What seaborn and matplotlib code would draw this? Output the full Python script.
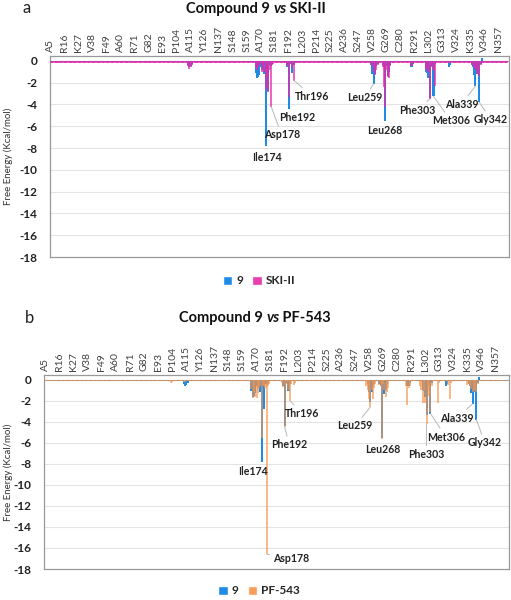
import numpy as np
import pandas as pd
import matplotlib
matplotlib.use("Agg")
import matplotlib.pyplot as plt
from matplotlib.patches import Patch
import seaborn as sns

sns.set_theme(style="white")
plt.rcParams['font.family'] = ['Lato', 'DejaVu Sans']

# ---------------- data ----------------
residues = list(range(5, 365))
tick_residues = [5, 16, 27, 38, 49, 60, 71, 82, 93, 104, 115, 126, 137, 148, 159, 170,
                 181, 192, 203, 214, 225, 236, 247, 258, 269, 280, 291, 302, 313, 324,
                 335, 346, 357]
tick_labels = ["A5", "R16", "K27", "V38", "F49", "A60", "R71", "G82", "E93", "P104",
               "A115", "Y126", "N137", "S148", "S159", "A170", "S181", "F192", "L203",
               "P214", "S225", "A236", "S247", "V258", "G269", "C280", "R291", "L302",
               "G313", "V324", "K335", "V346", "N357"]

# near-zero background level (estimated) and read-off residue contributions
base_9 = -0.12
base_ski = -0.2
base_pf = -0.14

cmpd9 = {113: -0.4, 114: -0.6, 115: -0.5, 116: -0.3,
         166: -1.1, 167: -1.6, 168: -1.5, 169: -1.3, 170: -0.6, 171: -0.8, 172: -0.5,
         173: -1.2, 174: -7.8, 175: -0.6, 176: -2.8, 177: -0.4, 178: -0.5, 179: -0.3,
         191: -0.6, 192: -4.4, 193: -0.3, 195: -1.1, 196: -0.4,
         257: -0.4, 258: -1.2, 259: -2.1, 260: -1.2, 261: -0.5, 262: -0.3,
         266: -0.4, 267: -0.6, 268: -5.5, 269: -0.5, 270: -1.4, 271: -1.0, 272: -0.4,
         288: -0.6, 289: -0.6, 290: -0.3,
         300: -1.0, 301: -1.1, 302: -1.6, 303: -3.4, 304: -0.5, 305: -0.4, 306: -3.25,
         307: -0.3, 318: -0.6, 319: -0.4,
         336: -0.4, 337: -0.6, 338: -1.3, 339: -2.3, 340: -1.2, 341: -1.0, 342: -3.8,
         343: -0.3, 344: 0.25}

ski2 = {113: -0.5, 114: -0.7, 115: -0.6, 116: -0.4,
        166: -0.6, 167: -0.8, 168: -0.6, 169: -0.4, 171: -1.0, 172: -0.4, 173: -1.0,
        174: -2.6, 175: -1.5, 176: -2.9, 177: -0.8, 178: -4.2, 179: -0.4, 180: -0.3,
        191: -0.5, 192: -3.3, 193: -0.3, 195: -0.6, 196: -1.8,
        258: -0.5, 259: -1.0, 260: -1.3, 261: -0.8, 262: -0.4,
        266: -0.6, 267: -2.4, 268: -4.2, 269: -0.8, 270: -1.5, 271: -1.6, 272: -0.5,
        288: -0.5, 289: -0.5,
        300: -0.8, 301: -0.6, 302: -1.0, 303: -3.5, 304: -0.6, 306: -0.8, 307: -2.3,
        336: -0.4, 337: -0.3, 338: -0.6, 339: -0.7, 340: -1.2, 341: -0.8, 342: -1.4,
        343: -0.4}

pf543 = {103: -0.3, 104: -0.2, 113: -0.2, 114: -0.2,
         166: -0.9, 167: -1.7, 168: -1.2, 169: -1.6, 170: -1.7, 171: -1.3, 172: -0.8,
         173: -0.6, 174: -5.5, 175: -0.5, 176: -0.6, 177: -0.8, 178: -16.6, 179: -0.6,
         180: -0.4,
         190: -0.3, 191: -0.7, 192: -4.5, 193: -0.4, 195: -1.0, 196: -2.0, 197: -0.4,
         199: -0.5, 200: -0.3,
         256: -0.6, 257: -1.0, 258: -1.8, 259: -2.6, 260: -1.0, 261: -1.8, 262: -0.8,
         263: -0.4, 266: -0.5, 267: -0.6, 268: -5.6, 269: -0.4, 270: -1.0, 271: -1.6,
         272: -1.2, 273: -0.8,
         287: -0.6, 288: -2.4, 289: -0.8, 290: -0.6,
         298: -0.6, 299: -1.0, 300: -2.2, 301: -1.0, 302: -2.2, 303: -4.2, 304: -1.0,
         305: -1.5, 306: -3.1, 307: -0.6, 312: -2.2, 313: -0.3,
         320: -0.5, 321: -1.8, 322: -0.3,
         335: -0.5, 336: -0.4, 337: -0.6, 338: -0.9, 339: -1.2, 340: -1.0, 341: -1.1,
         342: -1.2, 343: -0.4}

def series(d, base):
    return [d.get(r, base) for r in residues]

df = pd.DataFrame({"residue": residues,
                   "9": series(cmpd9, base_9),
                   "SKI-II": series(ski2, base_ski),
                   "PF-543": series(pf543, base_pf)})

BLUE = "#1E8CE6"
PINK = "#E62AA8"
ORANGE = "#F7944A"

fig = plt.figure(figsize=(5.11, 6.00), dpi=100)
W, H = 511, 600

def ax_rect(left, top, right, bottom):
    return [left / W, 1 - bottom / H, (right - left) / W, (bottom - top) / H]

ax_a = fig.add_axes(ax_rect(50, 56, 509, 257))
ax_b = fig.add_axes(ax_rect(44, 375, 509, 569))

def setup(ax, other, other_color, alpha, xlim, ylab_x):
    for yv in range(-16, 0, 2):
        ax.axhline(yv, color="#e3e3e3", lw=0.8, zorder=0)
    ax.axhline(0, color="#a0a0a0", lw=0.8, zorder=0.5)
    sns.barplot(data=df, x="residue", y="9", native_scale=True, color=BLUE,
                saturation=1, width=1.6, linewidth=0, errorbar=None, ax=ax, zorder=2)
    sns.barplot(data=df, x="residue", y=other, native_scale=True, color=other_color,
                saturation=1, width=1.6, linewidth=0, errorbar=None, ax=ax,
                alpha=alpha, zorder=3)
    ax.set_xlim(*xlim)
    ax.set_ylim(-18, 0.45)
    ax.set_yticks(range(-18, 1, 2))
    ax.set_yticklabels([str(v) for v in range(-18, 1, 2)], fontsize=8.5,
                       fontweight="bold", color="#222222")
    ax.xaxis.tick_top()
    ax.set_xticks(tick_residues)
    ax.set_xticklabels(tick_labels, rotation=90, fontsize=7.5, color="#404040")
    ax.tick_params(axis="both", length=0, pad=3)
    ax.tick_params(axis="y", pad=9)
    ax.set_xlabel("")
    ax.set_ylabel("Free Energy (Kcal/mol)", fontsize=7, color="#333333")
    ax.yaxis.set_label_coords(ylab_x, 0.5)
    for s in ax.spines.values():
        s.set_color("#999999")
        s.set_linewidth(0.9)
    ax.grid(False)

setup(ax_a, "SKI-II", PINK, 0.72, (4.3, 365.4), (13 - 50) / 459)
setup(ax_b, "PF-543", ORANGE, 0.65, (3.7, 367.5), (13 - 44) / 465)

LBL = dict(fontsize=7.6, fontweight="bold", color="#222222", ha="center", va="center")
LINE = dict(arrowstyle="-", color="#b8b8b8", lw=0.7, shrinkA=0, shrinkB=0)

def lab(ax, text, tip, pos, line=True):
    if line:
        ax.annotate(text, xy=tip, xytext=pos, textcoords="data",
                    arrowprops=LINE, zorder=5, **LBL)
    else:
        ax.text(pos[0], pos[1], text, zorder=5, **LBL)

# panel a labels
lab(ax_a, "Ile174", (174, -7.8), (175, -8.85), line=False)
lab(ax_a, "Asp178", (178.3, -4.2), (186.6, -6.8))
lab(ax_a, "Phe192", (192, -4.4), (198.4, -5.15), line=False)
lab(ax_a, "Thr196", (196.3, -1.8), (210.7, -3.25))
lab(ax_a, "Leu259", (259, -2.1), (251.8, -3.4))
lab(ax_a, "Leu268", (268, -5.5), (267.9, -6.4), line=False)
lab(ax_a, "Phe303", (303, -3.5), (293.3, -4.55))
lab(ax_a, "Met306", (306, -3.25), (319.8, -5.5))
lab(ax_a, "Ala339", (339, -2.3), (327.9, -4.0))
lab(ax_a, "Gly342", (342, -3.8), (351.3, -5.4))

# panel b labels
lab(ax_b, "Ile174", (174, -7.7), (167.4, -8.7), line=False)
lab(ax_b, "Asp178", (178.3, -16.6), (196.8, -17.0))
lab(ax_b, "Phe192", (192, -4.5), (195.6, -6.2))
lab(ax_b, "Thr196", (196.3, -2.0), (205.3, -3.25))
lab(ax_b, "Leu259", (259, -2.6), (247, -4.4))
lab(ax_b, "Leu268", (268, -5.6), (268.7, -6.6), line=False)
lab(ax_b, "Phe303", (303, -4.2), (302.8, -7.1))
lab(ax_b, "Met306", (306, -3.2), (318.0, -5.45))
lab(ax_b, "Ala339", (339, -2.3), (326.6, -3.65))
lab(ax_b, "Gly342", (342, -3.8), (348.5, -6.0))

# titles with italic "vs"
renderer = fig.canvas.get_renderer()
def mixed_title(parts, xc, yc, size=10.5):
    texts = [fig.text(0, 1 - yc / H, s, fontsize=size, fontweight="bold", style=st,
                      ha="left", va="center", color="#111111") for s, st in parts]
    widths = [t.get_window_extent(renderer).width for t in texts]
    x = xc - sum(widths) / 2
    for t, w in zip(texts, widths):
        t.set_x(x / W)
        x += w

mixed_title([("Compound 9 ", "normal"), ("vs", "italic"), (" SKI-II", "normal")], 256, 9)
mixed_title([("Compound 9 ", "normal"), ("vs", "italic"), (" PF-543", "normal")], 255, 318)
fig.text(27 / W, 1 - 8 / H, "a", fontsize=12, ha="center", va="center", color="#222222")
fig.text(30 / W, 1 - 318 / H, "b", fontsize=12, ha="center", va="center", color="#222222")

# legends
def legend(other, col, alpha, yc):
    handles = [Patch(facecolor=BLUE, label="9"),
               Patch(facecolor=col, alpha=alpha, label=other)]
    fig.legend(handles=handles, loc="center", bbox_to_anchor=(259 / W, 1 - yc / H),
               ncol=2, frameon=False, handlelength=0.8, handleheight=0.8,
               handletextpad=0.3, columnspacing=0.8,
               prop=dict(size=8.5, weight="bold"))

legend("SKI-II", PINK, 0.9, 281)
legend("PF-543", ORANGE, 0.9, 591)

fig.savefig("out.png", dpi=100)
